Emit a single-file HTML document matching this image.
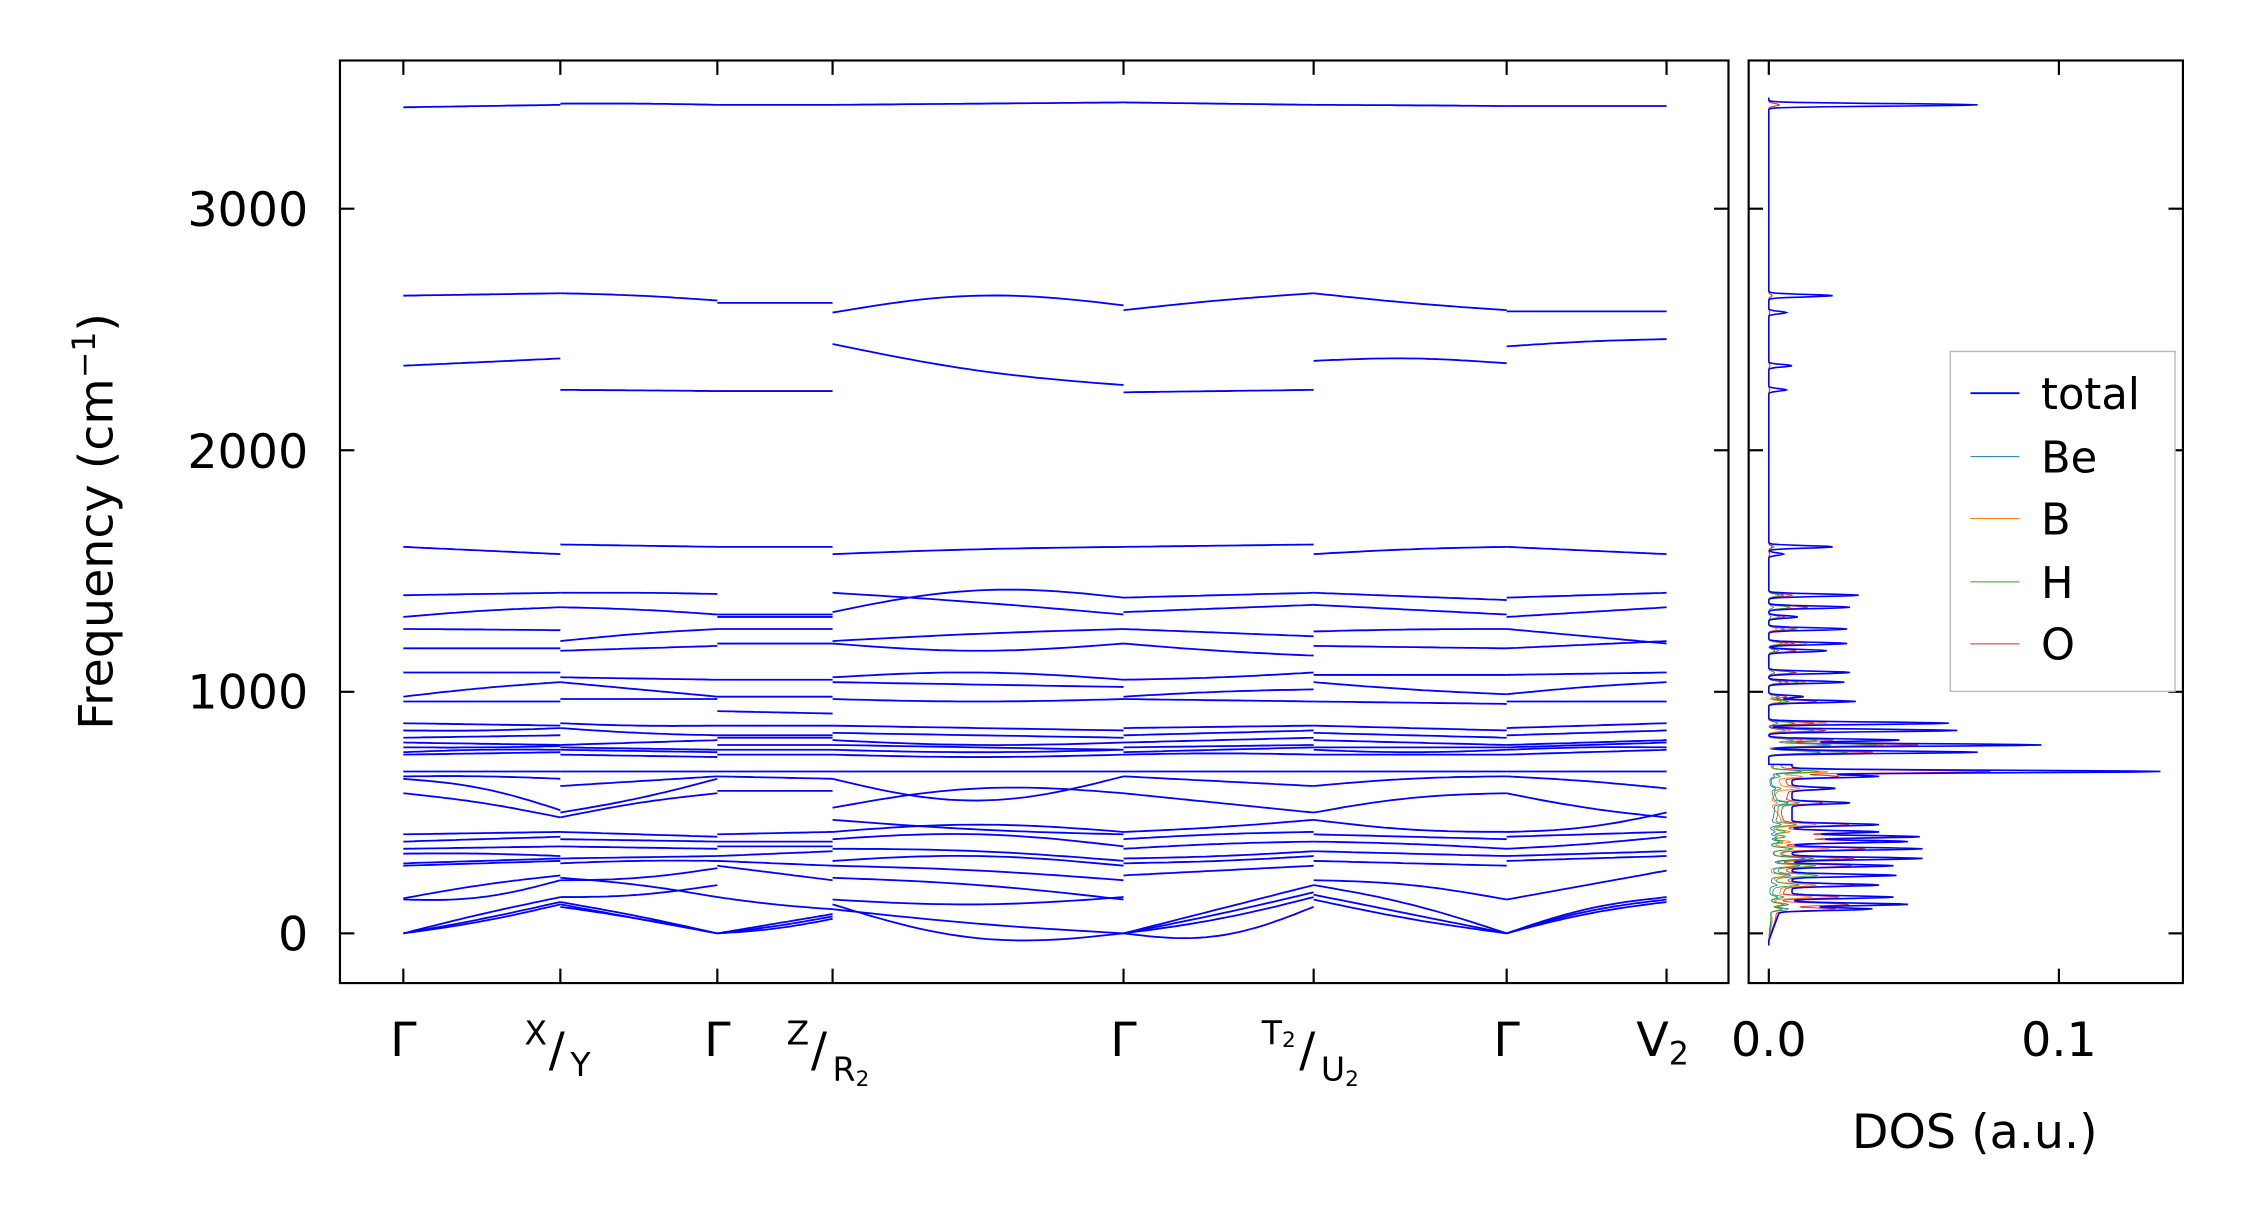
<!DOCTYPE html>
<html><head><meta charset="utf-8">
<style>
html,body{margin:0;padding:0;background:#fff;}
svg{display:block;}
text{font-family:"DejaVu Sans","Liberation Sans",sans-serif;fill:#000;}
</style></head>
<body>
<svg id="s" width="2259" height="1220" viewBox="0 0 1568.3 847" xmlns="http://www.w3.org/2000/svg">
<defs><clipPath id="cd"><rect x="1214" y="42" width="301.5" height="640.5"/></clipPath>
<clipPath id="cb"><rect x="236" y="42" width="964" height="640.5"/></clipPath></defs>
<rect width="1568.3" height="847" fill="#fff"/>
<g id="bands" fill="none" stroke="#0000ff" stroke-width="1.25" clip-path="url(#cb)"></g>
<g id="dos" fill="none" clip-path="url(#cd)"></g>
<g stroke="#000" stroke-width="1.5" fill="none">
<rect x="236" y="42" width="964" height="640.5"/>
<rect x="1214" y="42" width="301.5" height="640.5"/>
<g id="ticks"></g>
</g>
<g font-size="33" text-anchor="end">
<text x="214" y="660">0</text>
<text x="214" y="492">1000</text>
<text x="214" y="325">2000</text>
<text x="214" y="157">3000</text>
</g>
<text font-size="33" transform="translate(78,362) rotate(-90)" text-anchor="middle">Frequency (cm<tspan font-size="22" dy="-12">−1</tspan><tspan dy="12">)</tspan></text>
<g font-size="33">
<text x="280" y="733" text-anchor="middle">Γ</text>
<text x="364" y="725" font-size="23">X</text><text x="381" y="740">/</text><text x="396" y="747" font-size="23">Y</text>
<text x="498" y="733" text-anchor="middle">Γ</text>
<text x="546" y="725" font-size="23">Z</text><text x="563" y="740">/</text><text x="578" y="750" font-size="23">R<tspan font-size="15" dy="4">2</tspan></text>
<text x="780" y="733" text-anchor="middle">Γ</text>
<text x="876" y="725" font-size="23">T<tspan font-size="15" dy="2">2</tspan></text><text x="902" y="740">/</text><text x="917" y="750" font-size="23">U<tspan font-size="15" dy="4">2</tspan></text>
<text x="1046" y="733" text-anchor="middle">Γ</text>
<text x="1136" y="733">V<tspan font-size="22" dy="6">2</tspan></text>
<text x="1228" y="733" text-anchor="middle">0.0</text>
<text x="1429.4" y="733" text-anchor="middle">0.1</text>
<text x="1371" y="797" text-anchor="middle">DOS (a.u.)</text>
</g>
<g>
<rect x="1354" y="244" width="156" height="236" fill="#fff" stroke="#bbb" stroke-width="1"/>
<line x1="1368" x2="1402" y1="273" y2="273" stroke="#0000ff" stroke-width="1.3"/>
<line x1="1368" x2="1402" y1="317" y2="317" stroke="#1f77b4" stroke-width="0.7"/>
<line x1="1368" x2="1402" y1="360" y2="360" stroke="#ff7f0e" stroke-width="0.7"/>
<line x1="1368" x2="1402" y1="404" y2="404" stroke="#2ca02c" stroke-width="0.7"/>
<line x1="1368" x2="1402" y1="447" y2="447" stroke="#d62728" stroke-width="0.7"/>
<g font-size="30"><text x="1417" y="284">total</text><text x="1417" y="328">Be</text><text x="1417" y="371">B</text><text x="1417" y="415">H</text><text x="1417" y="458">O</text></g>
</g>
</svg>
<script>
(function(){
var NS="http://www.w3.org/2000/svg";
function Y(f){return 648-f*0.1677;}
function el(p,n,a){var e=document.createElementNS(NS,n);for(var k in a)e.setAttribute(k,a[k]);p.appendChild(e);return e;}
var X=[280,389,498,578,780,912,1046,1157];
var S=[
[[3420,3425,3430],[2640,2645,2650],[2350,2365,2380],[1600,1585,1570],[1400,1405,1410],[1310,1335,1350],[1260,1258,1255],[1180,1180,1180],[1080,1080,1080],[980,1015,1040],[960,960,960],[870,865,860],[840,840,850],[810,815,820],[790,785,780],[770,770,775],[750,760,760],[740,745,750],[670,670,670],[650,650,640],[640,600,510],[580,540,480],[410,415,420],[380,390,400],[350,355,360],[330,330,320],[290,300,310],[280,290,300],[145,200,240],[140,150,220],[0,60,130],[0,80,150],[0,50,120]],
[[3435,3435,3430],[2650,2640,2620],[2250,2248,2245],[1610,1605,1600],[1410,1410,1405],[1350,1340,1320],[1210,1240,1260],[1170,1180,1190],[1060,1055,1050],[1040,1010,980],[970,970,970],[870,860,860],[850,830,820],[780,790,800],[770,765,760],[760,755,750],[740,735,730],[670,670,670],[610,630,650],[500,560,640],[480,540,580],[420,410,400],[390,385,380],[360,355,350],[310,315,320],[290,300,300],[230,200,150],[220,230,270],[150,160,200],[120,60,0],[130,70,0],[110,60,0]],
[[3430,3430,3430],[2610,2610,2610],[2245,2245,2245],[1600,1600,1600],[1320,1320,1320],[1310,1310,1310],[1260,1260,1260],[1200,1200,1200],[1050,1050,1050],[980,980,980],[920,915,910],[860,860,860],[820,820,820],[810,810,810],[780,780,780],[760,760,760],[740,740,740],[670,670,670],[650,645,640],[590,590,590],[410,415,420],[380,380,380],[360,360,360],[320,330,340],[300,290,280],[280,250,220],[150,120,100],[0,40,80],[0,30,70],[0,20,60]],
[[3430,3435,3440],[2570,2640,2600],[2440,2330,2270],[1570,1590,1600],[1410,1370,1320],[1330,1420,1390],[1210,1240,1260],[1200,1170,1200],[1060,1080,1050],[1040,1030,1020],[970,960,970],[860,850,840],[830,820,810],[800,780,790],[780,770,760],[760,750,760],[740,730,740],[670,670,670],[640,550,650],[520,600,580],[470,430,410],[420,450,420],[390,410,360],[350,340,300],[300,320,280],[280,260,220],[230,200,140],[140,120,150],[120,-20,0],[100,40,0]],
[[3440,3435,3430],[2580,2620,2650],[2240,2245,2250],[1600,1605,1610],[1390,1400,1410],[1330,1345,1360],[1260,1245,1230],[1200,1170,1150],[1050,1060,1080],[980,1000,1010],[970,965,960],[850,855,860],[820,830,840],[790,800,810],[770,775,780],[750,760,770],[740,745,740],[670,670,670],[650,630,610],[580,540,500],[420,440,470],[390,410,420],[350,370,380],[310,320,340],[290,300,320],[240,260,280],[0,100,200],[0,80,170],[0,60,150],[0,-10,110]],
[[3430,3428,3425],[2650,2610,2580],[2370,2380,2360],[1570,1590,1600],[1410,1395,1380],[1360,1340,1320],[1250,1258,1260],[1190,1185,1180],[1070,1070,1070],[1040,1010,990],[960,955,950],[860,850,840],[830,820,810],[800,790,780],[770,770,770],[760,750,760],[740,740,740],[670,670,670],[610,640,650],[500,560,580],[470,430,420],[410,400,390],[380,370,350],[340,330,320],[300,290,280],[220,200,140],[200,120,0],[160,80,0],[140,60,0]],
[[3425,3425,3425],[2575,2575,2575],[2430,2450,2460],[1600,1585,1570],[1390,1400,1410],[1310,1330,1350],[1260,1230,1200],[1180,1195,1210],[1070,1075,1080],[990,1020,1040],[960,960,960],[850,860,870],[820,830,840],[780,790,800],[770,780,790],[760,770,770],[740,750,760],[670,670,670],[650,630,600],[580,520,480],[420,440,500],[400,410,420],[350,370,400],[320,330,340],[300,310,320],[140,200,260],[0,100,150],[0,90,140],[0,80,130]]];
var g=document.getElementById('bands');
for(var s=0;s<7;s++){var x0=X[s],x1=X[s+1];
 S[s].forEach(function(b){var d='';for(var i=0;i<=30;i++){var t=i/30;var f=b[0]*(1-t)+b[2]*t+(b[1]-(b[0]+b[2])/2)*Math.sin(Math.PI*t);d+=(i?'L':'M')+(x0+(x1-x0)*t).toFixed(1)+','+Y(f).toFixed(1);}
 el(g,'path',{d:d});});}
var pk=[[3430,.072],[2640,.022],[2570,.006],[2350,.008],[2250,.006],[1600,.022],[1570,.005],[1400,.031],[1350,.028],[1310,.01],[1260,.027],[1200,.027],[1170,.02],[1080,.028],[1040,.026],[980,.012],[960,.03],[870,.062],[840,.065],[800,.045],[780,.094],[750,.072],[670,.127],[650,.03],[600,.015],[540,.02],[450,.03],[420,.03],[400,.044],[380,.04],[350,.045],[310,.045],[280,.035],[240,.036],[200,.03],[150,.035],[120,.04],[100,.03]];
function tot(f){var v=0;pk.forEach(function(p){var d=(f-p[0])/5;v+=p[1]*Math.exp(-d*d/2);});if(f>100&&f<700)v+=0.008;if(f>-30&&f<=100)v+=0.004*(f+30)/130;return v;}
function DX(v){return 1228+v*2014;}
var dg=document.getElementById('dos');
function curve(fn,col,w){var d='';var i=0;for(var f=-50;f<=3460;f+=2){d+=(i++?'L':'M')+DX(fn(f)).toFixed(1)+','+Y(f).toFixed(1);}el(dg,'path',{d:d,stroke:col,'stroke-width':w});}
curve(function(f){return tot(f)*(f>2000?0.05:0.15+0.1*Math.sin(f/37));},'#1f77b4',0.6);
curve(function(f){return tot(f)*(f>1500?0.05:0.3+0.2*Math.sin(f/23));},'#ff7f0e',0.6);
curve(function(f){return tot(f)*(f>1500?0.95:0.25+0.15*Math.cos(f/41));},'#2ca02c',0.6);
curve(function(f){return tot(f)*(f>1500?0.05:(f<700?0.7:0.4)+0.15*Math.sin(f/29));},'#d62728',0.6);
curve(tot,'#0000ff',1.1);
var tk=document.getElementById('ticks');
[0,1000,2000,3000].forEach(function(f){var y=Y(f);
 [[236,246],[1190,1200],[1214,1224],[1505.5,1515.5]].forEach(function(a){el(tk,'line',{x1:a[0],x2:a[1],y1:y,y2:y});});});
X.forEach(function(x){el(tk,'line',{x1:x,x2:x,y1:42,y2:52});el(tk,'line',{x1:x,x2:x,y1:672.5,y2:682.5});});
[1228,1429.4].forEach(function(x){el(tk,'line',{x1:x,x2:x,y1:42,y2:52});el(tk,'line',{x1:x,x2:x,y1:672.5,y2:682.5});});
})();
</script>
</body></html>
